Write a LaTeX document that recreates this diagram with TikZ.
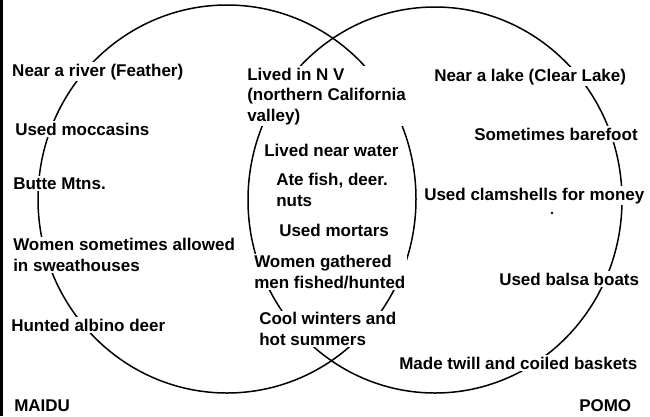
\documentclass[tikz,border=0pt]{standalone}
\usepackage{fontspec}
\setmainfont{Liberation Sans}
\begin{document}
\begin{tikzpicture}[x=1pt,y=-1pt,line width=1.5pt,
  lbl/.style={fill=white,inner sep=1.5pt,anchor=base west,align=left,
    font=\fontsize{17}{20.5}\selectfont\bfseries}]
\useasboundingbox (0,0) rectangle (650,416);
\fill (0,0) rectangle (2.5,416);
% circles
\draw (227,199) ellipse [x radius=189pt, y radius=194pt];
\draw (435,200) ellipse [x radius=187pt, y radius=193pt];
\fill (552,213) circle (1.3pt);
% Maidu (multi-line nodes are anchored at the baseline of their last line)
\node[lbl] (m1) at (10,76) {Near a river (Feather)};
\node[lbl] (m2) at (13,135) {Used moccasins};
\node[lbl] (m3) at (11,189) {Butte Mtns.};
\node[lbl] (m4) at (11,271) {Women sometimes allowed\\in sweathouses};
\node[lbl] (m5) at (9,331) {Hunted albino deer};
\node[lbl] (maidu) at (12,411) {MAIDU};
% both
\node[lbl] (b1) at (245,121) {Lived in N V\\(northern California\\valley)};
\node[lbl] (b2) at (262,156) {Lived near water};
\node[lbl] (b3) at (274,206) {Ate fish, deer.\\nuts};
\node[lbl] (b4) at (277,236) {Used mortars};
\node[lbl] (b5) at (252,288) {Women gathered\\men fished/hunted};
\node[lbl] (b6) at (257,345) {Cool winters and\\hot summers};
% Pomo
\node[lbl] (p1) at (432,81) {Near a lake (Clear Lake)};
\node[lbl] (p2) at (472,140) {Sometimes barefoot};
\node[lbl] (p3) at (422,200) {Used clamshells for money};
\node[lbl] (p4) at (497,285) {Used balsa boats};
\node[lbl] (p5) at (397,369) {Made twill and coiled baskets};
\node[lbl] (pomo) at (577,411) {POMO};
\end{tikzpicture}
\end{document}
